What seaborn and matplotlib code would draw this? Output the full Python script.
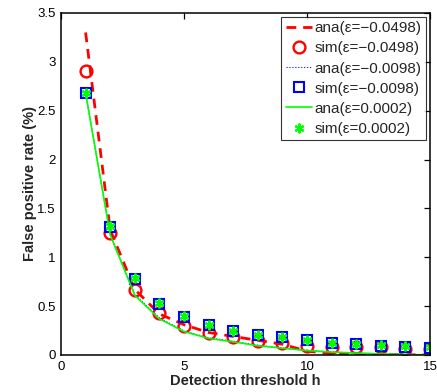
import matplotlib
matplotlib.use("Agg")
import matplotlib.pyplot as plt
import seaborn as sns
import numpy as np

h = [1, 2, 3, 4, 5, 6, 7, 8, 9, 10, 11, 12, 13, 14, 15]

ana_m0498 = [3.30, 1.28, 0.67, 0.42, 0.31, 0.23, 0.19, 0.15, 0.11, 0.04, 0.012, 0.006, 0.004, 0.002, 0.001]
sim_m0498 = [2.91, 1.25, 0.67, 0.43, 0.30, 0.22, 0.18, 0.14, 0.12, 0.09, 0.085, 0.08, 0.077, 0.065, 0.06]
ana_m0098 = [2.68, 1.23, 0.62, 0.38, 0.245, 0.175, 0.14, 0.10, 0.072, 0.047, 0.03, 0.02, 0.012, 0.006, 0.002]
sim_m0098 = [2.68, 1.31, 0.78, 0.52, 0.39, 0.31, 0.245, 0.20, 0.18, 0.15, 0.12, 0.11, 0.095, 0.085, 0.075]
ana_p0002 = [2.68, 1.23, 0.61, 0.37, 0.24, 0.17, 0.135, 0.095, 0.07, 0.045, 0.03, 0.02, 0.01, 0.005, 0.001]
sim_p0002 = [2.68, 1.32, 0.79, 0.53, 0.40, 0.31, 0.25, 0.205, 0.185, 0.155, 0.125, 0.11, 0.098, 0.088, 0.078]

labels = ["ana(ε=−0.0498)", "sim(ε=−0.0498)", "ana(ε=−0.0098)",
          "sim(ε=−0.0098)", "ana(ε=0.0002)", "sim(ε=0.0002)"]

sns.set_style("white")
plt.rcParams['font.family'] = ['Liberation Sans', 'DejaVu Sans']

fig = plt.figure(figsize=(4.37, 3.92), dpi=100)
ax = fig.add_axes([0.1396, 0.0944, 0.8444, 0.8726])

sns.lineplot(x=h, y=ana_m0498, ax=ax, color='red', linestyle=(0, (3.5, 2.5)), linewidth=2, label=labels[0])
sns.lineplot(x=h, y=sim_m0498, ax=ax, color='red', linestyle='', marker='o', markersize=8.5,
             markerfacecolor='none', markeredgecolor='red', markeredgewidth=1.7, label=labels[1])
sns.lineplot(x=h, y=ana_m0098, ax=ax, color='blue', linestyle=':', linewidth=0.8, label=labels[2])
sns.lineplot(x=h, y=sim_m0098, ax=ax, color='blue', linestyle='', marker='s', markersize=6.5,
             markerfacecolor='none', markeredgecolor='blue', markeredgewidth=1.5, label=labels[3])
sns.lineplot(x=h, y=ana_p0002, ax=ax, color='#00ff00', linestyle='-', linewidth=1.2, label=labels[4])
sns.lineplot(x=h, y=sim_p0002, ax=ax, color='#00ff00', linestyle='', marker=(6, 2, 0), markersize=7,
             markeredgecolor='#00ff00', markeredgewidth=1.5, label=labels[5])

ax.set_xlim(0, 15)
ax.set_ylim(0, 3.5)
ax.set_xticks([0, 5, 10, 15])
ax.set_xticklabels(["0", "5", "10", "15"])
ax.set_yticks([0, 0.5, 1, 1.5, 2, 2.5, 3, 3.5])
ax.set_yticklabels(["0", "0.5", "1", "1.5", "2", "2.5", "3", "3.5"])
ax.tick_params(direction='in', length=4, width=0.9, top=True, right=True,
               labelsize=9.5, colors='black')
ax.tick_params(axis='x', pad=4)
ax.tick_params(axis='y', pad=4)
for s in ax.spines.values():
    s.set_visible(True)
    s.set_color('black')
    s.set_linewidth(1.1)
ax.set_xlabel("Detection threshold h", fontsize=10.5, fontweight='bold', labelpad=1)
ax.set_ylabel("False positive rate (%)", fontsize=10.5, fontweight='bold', labelpad=0)

leg = ax.legend(loc='upper right', fontsize=11, frameon=True, fancybox=False,
                handlelength=1.7, handletextpad=0.2, borderpad=0.3, labelspacing=0.4,
                borderaxespad=0.25, edgecolor='black')
leg.get_frame().set_linewidth(0.8)

fig.savefig("out.png", dpi=100)
